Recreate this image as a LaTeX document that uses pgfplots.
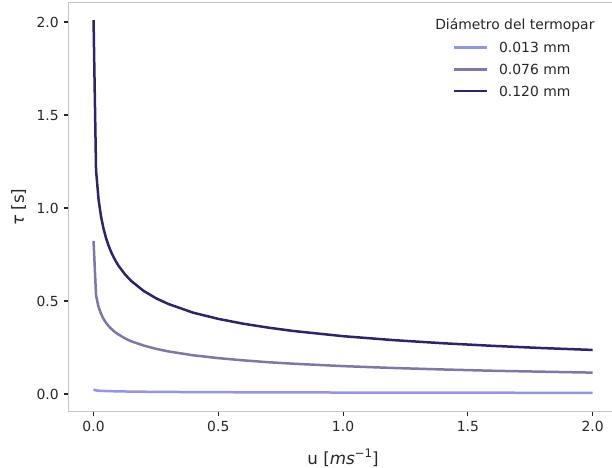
\documentclass[border=0pt]{standalone}
\usepackage{fontspec}
\setmainfont{DejaVu Sans}
\usepackage{pgfplots}
\pgfplotsset{compat=1.18}
\definecolor{cLight}{RGB}{143,150,235}
\definecolor{cMed}{RGB}{128,118,170}
\definecolor{cDark}{RGB}{45,36,110}
\definecolor{spine}{RGB}{195,195,210}
\definecolor{txt}{RGB}{38,38,38}
\begin{document}
\begin{tikzpicture}
\useasboundingbox (0bp,0bp) rectangle (612bp,468bp);
\begin{axis}[
  at={(68.6bp,56.5bp)}, anchor=south west,
  scale only axis, width=548.9bp, height=408.8bp,
  xmin=-0.1, xmax=2.1, ymin=-0.094, ymax=2.104,
  xtick={0,0.5,1,1.5,2}, ytick={0,0.5,1,1.5,2},
  tick pos=left, tick align=outside,
  major tick length=4.86bp,
  tick style={line width=1.1bp, color=txt},
  axis line style={draw=spine, line width=1.1bp},
  /pgf/number format/assume math mode=true,
  /pgf/number format/.cd, fixed, fixed zerofill, precision=1, /pgfplots/.cd,
  ticklabel style={font=\fontsize{13.9bp}{16bp}\selectfont, text=txt, inner sep=0pt},
  xticklabel style={anchor=north, yshift=-4.86bp},
  yticklabel style={anchor=east, xshift=-4.86bp},
  xlabel={u [\textit{ms}\raisebox{0.42em}{\fontsize{11.7bp}{12bp}\selectfont −1}]},
  ylabel={\textit{τ} [s]},
  label style={font=\fontsize{16.7bp}{19bp}\selectfont, text=txt, inner sep=0pt},
  xlabel style={at={(axis description cs:0.5,-0.090)}, anchor=north},
  ylabel style={at={(axis description cs:-0.077,0.5)}, anchor=south},
  legend image code/.code={\draw[#1, line width=2.5bp] (0bp,0bp) -- (33bp,0bp);},
  legend style={at={(rel axis cs:0.6998,0.903)}, anchor=north west, draw=none, fill=none,
    inner sep=0pt, row sep=11.6bp, column sep=10.7bp,
    font=\fontsize{13.9bp}{16bp}\selectfont, text=txt,
    nodes={inner sep=0pt, text height=10.1bp, text depth=0bp}},
  legend cell align=left,
]
\addplot[cLight, line width=2.5bp, line join=round] coordinates {(0,0.0240)(0.01,0.0193)(0.02,0.0180)(0.04,0.0165)(0.06,0.0155)(0.1,0.0142)(0.15,0.0131)(0.2,0.0123)(0.3,0.0112)(0.4,0.0104)(0.5,0.0098)(0.6,0.0093)(0.8,0.0086)(1.0,0.0080)(1.2,0.0076)(1.4,0.0073)(1.6,0.0069)(1.8,0.0067)(2.0,0.0065)};
\addlegendentry{0.013 mm}
\addplot[cMed, line width=2.5bp, line join=round] coordinates {(0,0.823)(0.01,0.530)(0.02,0.468)(0.03,0.431)(0.04,0.404)(0.05,0.383)(0.06,0.366)(0.07,0.352)(0.08,0.340)(0.09,0.329)(0.1,0.320)(0.125,0.300)(0.15,0.284)(0.2,0.261)(0.25,0.243)(0.3,0.229)(0.4,0.208)(0.5,0.193)(0.6,0.181)(0.7,0.171)(0.8,0.163)(1.0,0.150)(1.2,0.140)(1.4,0.132)(1.6,0.125)(1.8,0.120)(2.0,0.115)};
\addlegendentry{0.076 mm}
\addplot[cDark, line width=2.5bp, line join=round] coordinates {(0,2.010)(0.01,1.203)(0.02,1.047)(0.03,0.954)(0.04,0.889)(0.05,0.839)(0.06,0.799)(0.07,0.765)(0.08,0.737)(0.09,0.712)(0.1,0.690)(0.125,0.645)(0.15,0.609)(0.2,0.555)(0.25,0.515)(0.3,0.484)(0.4,0.437)(0.5,0.404)(0.6,0.378)(0.7,0.357)(0.8,0.339)(1.0,0.311)(1.2,0.290)(1.4,0.273)(1.6,0.259)(1.8,0.247)(2.0,0.237)};
\addlegendentry{0.120 mm}
\node[font=\fontsize{13.9bp}{16bp}\selectfont, text=txt, inner sep=0pt] at (rel axis cs:0.813,0.9455) {Diámetro del termopar};
\end{axis}
\end{tikzpicture}
\end{document}
